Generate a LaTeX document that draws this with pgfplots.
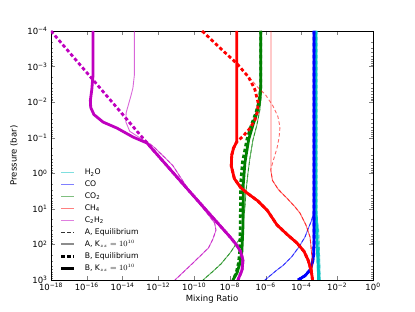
\documentclass[border=0pt]{standalone}
\usepackage{pgfplots}
\pgfplotsset{compat=1.18}
\usepackage{fontspec}
\setmainfont{DejaVu Sans}
\definecolor{mcyan}{rgb}{0,0.75,0.75}
\definecolor{mblue}{rgb}{0,0,1}
\definecolor{mgreen}{rgb}{0,0.5,0}
\definecolor{mred}{rgb}{1,0,0}
\definecolor{mmag}{rgb}{0.75,0,0.75}
\tikzset{
  Aeq/.style={line width=0.9pt, dash pattern=on 3.5pt off 2.5pt, opacity=0.6},
  Akzz/.style={line width=0.9pt, opacity=0.6},
  Beq/.style={line width=2.8pt, dash pattern=on 3.5pt off 2.5pt},
  Bkzz/.style={line width=2.8pt},
}
\begin{document}
\begin{tikzpicture}
\path[use as bounding box] (-51pt,-32pt) rectangle (364pt,280pt);
% frame axis (log ticks)
\begin{axis}[at={(0,0)}, anchor=south west, scale only axis, width=322pt, height=249pt,
  xmode=log, ymode=log, xmin=1e-18, xmax=1, ymin=1e-4, ymax=1e3, y dir=reverse,
  xtick={1e-18,1e-16,1e-14,1e-12,1e-10,1e-8,1e-6,1e-4,1e-2,1},
  xticklabels={10\textsuperscript{−18},10\textsuperscript{−16},10\textsuperscript{−14},10\textsuperscript{−12},10\textsuperscript{−10},10\textsuperscript{−8},10\textsuperscript{−6},10\textsuperscript{−4},10\textsuperscript{−2},10\textsuperscript{0}},
  minor xtick={},
  ytick={1e-4,1e-3,1e-2,1e-1,1,1e1,1e2,1e3},
  yticklabels={10\textsuperscript{−4},10\textsuperscript{−3},10\textsuperscript{−2},10\textsuperscript{−1},10\textsuperscript{0},10\textsuperscript{1},10\textsuperscript{2},10\textsuperscript{3}},
  tick align=inside, major tick length=4pt, minor tick length=2pt,
  tick label style={font=\fontsize{8.5}{10}\selectfont},
  xlabel={Mixing Ratio}, ylabel={Pressure (bar)},
  label style={font=\fontsize{8.5}{10}\selectfont},
  ylabel style={at={(axis description cs:-0.115,0.5)}, anchor=center},
  xlabel style={at={(axis description cs:0.5,-0.075)}, anchor=center},
]
\end{axis}
% data axis (log10 values)
\begin{axis}[at={(0,0)}, anchor=south west, scale only axis, width=322pt, height=249pt,
  xmin=-18, xmax=0, ymin=-4, ymax=3, y dir=reverse, hide axis, clip=true,
  legend image code/.code={\draw[#1] (0pt,0pt) -- (13pt,0pt);},
  legend cell align=left,
  legend style={at={(0.028,0.454)}, anchor=north west, draw=none, fill=none,
    inner sep=0pt, outer sep=0pt, font=\fontsize{7.7}{8}\selectfont,
    nodes={inner xsep=0pt, inner ysep=1.95pt, text height=6pt, text depth=2pt},
    /tikz/every odd column/.append style={column sep=9pt}},
]
% H2O
\addplot[mcyan, Akzz, forget plot] coordinates {(-3.19,-4) (-3.19,0.8) (-3.14,1.2) (-3.04,1.6) (-3.0,2.1) (-2.97,2.6) (-2.95,3)};
\addplot[mcyan, Aeq, forget plot] coordinates {(-3.19,-4) (-3.19,0.8) (-3.14,1.2) (-3.04,1.6) (-3.0,2.1) (-2.97,2.6) (-2.95,3)};
\addplot[mcyan, Beq, forget plot] coordinates {(-3.19,-4) (-3.19,1.0) (-3.16,1.6) (-3.10,2.2) (-3.06,2.6) (-3.04,3)};
\addplot[mcyan, Bkzz, forget plot] coordinates {(-3.19,-4) (-3.19,1.0) (-3.16,1.6) (-3.10,2.2) (-3.06,2.6) (-3.04,3)};
% CO
\addplot[mblue, Akzz, forget plot] coordinates {(-3.30,-4) (-3.30,0.9) (-3.34,1.15) (-3.45,1.35) (-3.62,1.55) (-3.80,1.79) (-4.15,2.08) (-4.55,2.35) (-5.0,2.58) (-5.37,2.72) (-6.04,3)};
\addplot[mblue, Aeq, forget plot] coordinates {(-3.30,-4) (-3.30,0.9) (-3.34,1.15) (-3.45,1.35) (-3.62,1.55) (-3.80,1.79) (-4.15,2.08) (-4.55,2.35) (-5.0,2.58) (-5.37,2.72) (-6.04,3)};
\addplot[mblue, Beq, forget plot] coordinates {(-3.30,-4) (-3.30,2.0) (-3.32,2.3) (-3.38,2.5) (-3.52,2.72) (-3.80,2.88) (-4.19,3)};
\addplot[mblue, Bkzz, forget plot] coordinates {(-3.30,-4) (-3.30,2.0) (-3.32,2.3) (-3.38,2.5) (-3.52,2.72) (-3.80,2.88) (-4.19,3)};
% CO2
\addplot[mgreen, Akzz, forget plot] coordinates {(-6.24,-4) (-6.24,-2.2) (-6.32,-1.8) (-6.49,-1.36) (-6.71,-0.94) (-6.88,-0.43) (-6.99,0.0) (-7.1,0.5) (-7.16,0.95) (-7.25,1.4) (-7.32,1.75) (-7.6,1.95) (-7.99,2.24) (-8.5,2.55) (-9.0,2.78) (-9.5,3)};
\addplot[mgreen, Aeq, forget plot] coordinates {(-6.24,-4) (-6.24,-2.2) (-6.32,-1.8) (-6.49,-1.36) (-6.71,-0.94) (-6.88,-0.43) (-6.99,0.0) (-7.1,0.5) (-7.16,0.95) (-7.25,1.4) (-7.32,1.75) (-7.6,1.95) (-7.99,2.24) (-8.5,2.55) (-9.0,2.78) (-9.5,3)};
\addplot[mgreen, Beq, forget plot] coordinates {(-6.28,-4) (-6.28,-2.4) (-6.38,-2.0) (-6.55,-1.7) (-6.8,-1.36) (-7.05,-0.95) (-7.3,-0.3) (-7.4,0.3) (-7.42,1.5) (-7.45,2.2) (-7.52,2.52) (-7.65,2.8) (-7.83,3)};
\addplot[mgreen, Bkzz, forget plot] coordinates {(-6.28,-4) (-6.28,-2.4) (-6.35,-2.0) (-6.49,-1.7) (-6.71,-1.36) (-6.95,-0.95) (-7.16,-0.3) (-7.25,0.3) (-7.27,1.5) (-7.33,2.2) (-7.44,2.52) (-7.6,2.8) (-7.83,3)};
% CH4
\addplot[mred, Akzz, forget plot] coordinates {(-5.70,-4) (-5.70,-0.05) (-5.62,0.2) (-5.3,0.45) (-4.81,0.7) (-4.35,0.95) (-4.08,1.12) (-3.75,1.45) (-3.52,1.79) (-3.41,2.35) (-3.37,3)};
\addplot[mred, Aeq, forget plot] coordinates {(-9.55,-4) (-8.5,-3.5) (-7.6,-3.08) (-6.95,-2.72) (-6.5,-2.45) (-6.0,-2.2) (-5.6,-1.9) (-5.32,-1.6) (-5.2,-1.3) (-5.25,-1.0) (-5.37,-0.7) (-5.55,-0.4) (-5.72,-0.1) (-5.62,0.2) (-5.3,0.45) (-4.81,0.7) (-4.35,0.95) (-4.08,1.12) (-3.75,1.45) (-3.52,1.79) (-3.41,2.35) (-3.37,3)};
\addplot[mred, Beq, forget plot] coordinates {(-9.55,-4) (-8.5,-3.5) (-7.6,-3.08) (-6.95,-2.7) (-6.6,-2.35) (-6.43,-2.0) (-6.45,-1.75) (-6.6,-1.5) (-6.9,-1.25) (-7.25,-1.05) (-7.62,-0.88) (-7.80,-0.7) (-7.90,-0.5) (-7.92,-0.2) (-7.75,0.15) (-7.4,0.4) (-7.05,0.55) (-6.43,0.78) (-5.9,1.05) (-5.37,1.45) (-4.8,1.72) (-4.25,1.96) (-3.85,2.2) (-3.62,2.45) (-3.45,2.75) (-3.38,3)};
\addplot[mred, Bkzz, forget plot] coordinates {(-7.62,-4) (-7.62,-0.88) (-7.80,-0.7) (-7.90,-0.5) (-7.92,-0.2) (-7.75,0.15) (-7.4,0.4) (-7.05,0.55) (-6.43,0.78) (-5.9,1.05) (-5.37,1.45) (-4.8,1.72) (-4.25,1.96) (-3.85,2.2) (-3.62,2.45) (-3.45,2.75) (-3.38,3)};
% C2H2
\addplot[mmag, Akzz, forget plot] coordinates {(-13.34,-4) (-13.34,-2.76) (-13.42,-2.4) (-13.52,-2.2) (-13.66,-1.95) (-13.8,-1.7) (-13.82,-1.45) (-13.6,-1.18) (-12.86,-0.94) (-12.2,-0.72) (-11.18,-0.21) (-10.2,0.55) (-9.28,1.12) (-8.85,1.40) (-8.78,1.6) (-8.95,1.85) (-9.2,2.1) (-10.06,2.52) (-11.07,3)};
\addplot[mmag, Aeq, forget plot] coordinates {(-18,-4) (-14.4,-1.9) (-13.9,-1.55) (-13.3,-1.22) (-12.75,-0.95) (-12.2,-0.72) (-11.18,-0.21) (-10.2,0.55) (-9.28,1.12) (-8.85,1.40) (-8.78,1.6) (-8.95,1.85) (-9.2,2.1) (-10.06,2.52) (-11.07,3)};
\addplot[mmag, Beq, forget plot] coordinates {(-18,-4) (-16,-2.83) (-14,-1.66) (-12.63,-0.85) (-10.5,0.37) (-9,1.22) (-7.99,1.79) (-7.65,2.0) (-7.40,2.2) (-7.27,2.44) (-7.32,2.72) (-7.55,3)};
\addplot[mmag, Bkzz, forget plot] coordinates {(-15.65,-4) (-15.65,-2.76) (-15.72,-2.35) (-15.80,-2.05) (-15.78,-1.85) (-15.6,-1.65) (-15.09,-1.44) (-14.31,-1.27) (-13.42,-1.02) (-12.63,-0.85) (-10.5,0.37) (-9,1.22) (-7.99,1.79) (-7.65,2.0) (-7.40,2.2) (-7.27,2.44) (-7.32,2.72) (-7.55,3)};
% legend
\addlegendimage{mcyan, line width=1pt, opacity=0.5}
\addlegendentry{H\textsubscript{2}O}
\addlegendimage{mblue, line width=1pt, opacity=0.5}
\addlegendentry{CO}
\addlegendimage{mgreen, line width=1pt, opacity=0.5}
\addlegendentry{CO\textsubscript{2}}
\addlegendimage{mred, line width=1pt, opacity=0.5}
\addlegendentry{CH\textsubscript{4}}
\addlegendimage{mmag, line width=1pt, opacity=0.5}
\addlegendentry{C\textsubscript{2}H\textsubscript{2}}
\addlegendimage{black, line width=0.9pt, dash pattern=on 3.5pt off 2.5pt, opacity=0.8}
\addlegendentry{A, Equilibrium}
\addlegendimage{black, line width=1.8pt, opacity=0.45}
\addlegendentry{A, K$_{zz}=10^{10}$}
\addlegendimage{black, line width=2.8pt, dash pattern=on 3.5pt off 2.5pt}
\addlegendentry{B, Equilibrium}
\addlegendimage{black, line width=2.8pt}
\addlegendentry{B, K$_{zz}=10^{10}$}
\end{axis}
\end{tikzpicture}
\end{document}
